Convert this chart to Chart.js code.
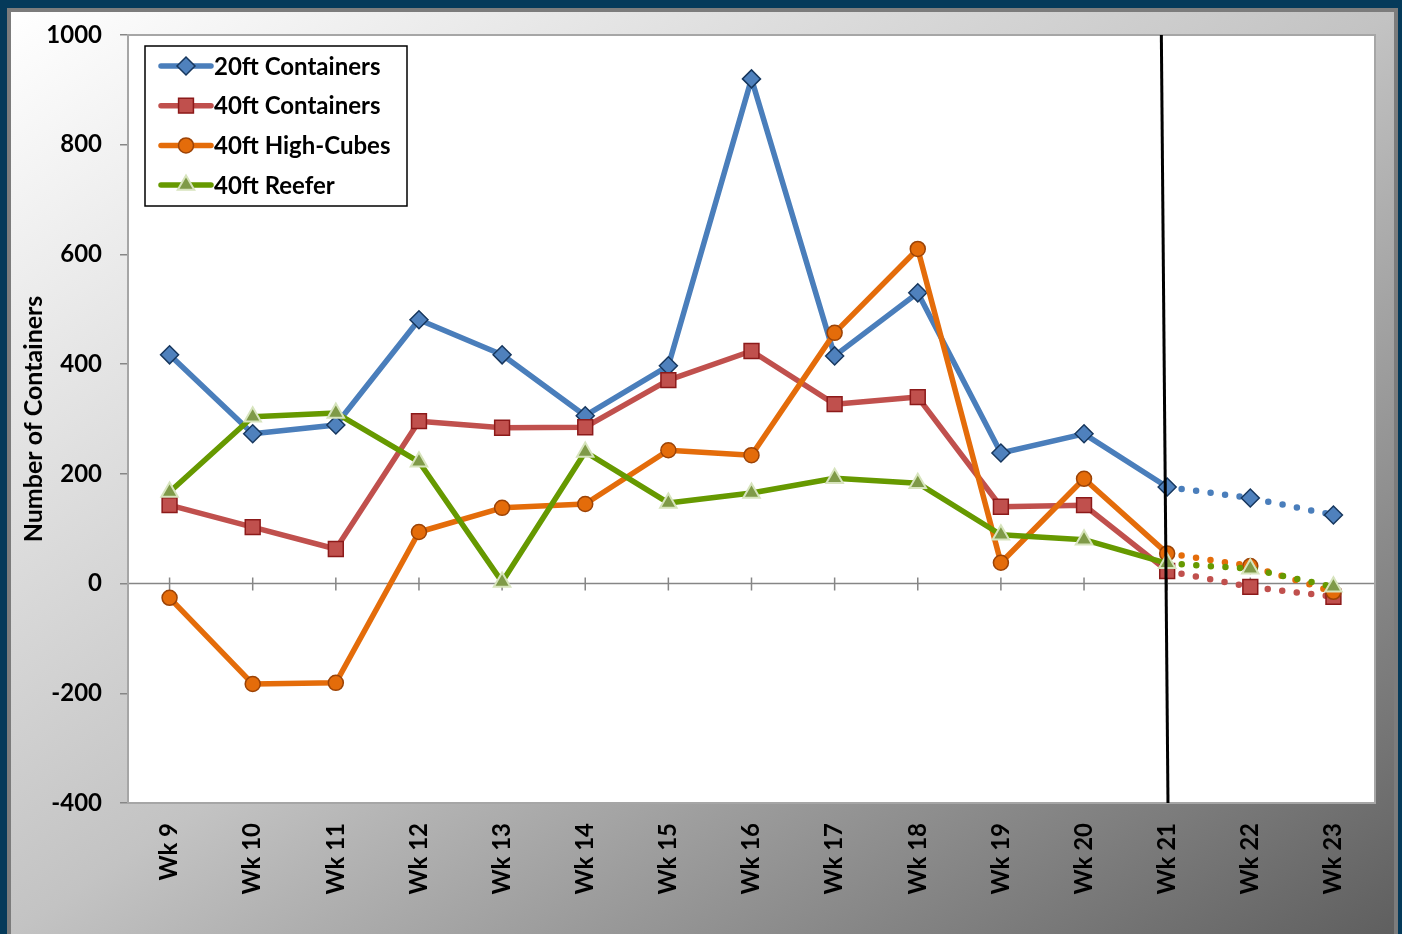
<!DOCTYPE html>
<html>
<head>
<meta charset="utf-8">
<script src="https://cdn.jsdelivr.net/npm/chart.js@4.4.1/dist/chart.umd.min.js"></script>
<style>
  html, body { margin: 0; padding: 0; width: 1402px; height: 934px; overflow: hidden; background: #053a5a; }
  #frame {
    position: absolute; left: 7px; top: 8px; width: 1391px; height: 926px;
    box-sizing: border-box; border: 4px solid #7c7c7c; border-bottom: none;
    background: linear-gradient(to bottom right, #ffffff 0%, #c3c3c3 50%, #5f5f5f 100%);
  }
  #wrap { position: absolute; left: 0; top: 0; width: 1402px; height: 934px; }
</style>
</head>
<body>
<div id="frame"></div>
<div id="wrap"><canvas id="chart" width="1402" height="934"></canvas></div>
<script>
// Weekly container counts, Wk 21 onwards is the forecast (dotted)
const weeks = ['Wk 9', 'Wk 10', 'Wk 11', 'Wk 12', 'Wk 13', 'Wk 14', 'Wk 15', 'Wk 16',
  'Wk 17', 'Wk 18', 'Wk 19', 'Wk 20', 'Wk 21', 'Wk 22', 'Wk 23'];
const containers20 = [417, 273, 289, 481, 417, 306, 397, 920, 415, 530, 238, 273, 176, 156, 125];
const containers40 = [143, 103, 63, 296, 284, 285, 371, 424, 327, 340, 140, 143, 23, -6, -24];
const highCubes40 = [-26, -183, -181, 94, 138, 145, 243, 234, 457, 610, 38, 191, 55, 32, -15];
const reefer40 = [167, 304, 311, 222, 3, 240, 147, 165, 192, 183, 89, 80, 37, 27, -6];
const yTicks = [-400, -200, 0, 200, 400, 600, 800, 1000];
const forecastFrom = 12;

const FONT = 'Lato, "Open Sans", sans-serif';
const AXIS_GRAY = '#868686';

function series(label, data, color, marker, order) {
  return {
    label,
    data,
    order,
    borderColor: color,
    borderWidth: 5.5,
    borderCapStyle: 'round',
    borderJoinStyle: 'round',
    tension: 0,
    pointStyle: marker.style,
    pointRadius: marker.radius,
    pointBackgroundColor: marker.fill,
    pointBorderColor: marker.border,
    pointBorderWidth: marker.borderWidth,
    segment: {
      borderDash: ctx => ctx.p0DataIndex >= forecastFrom ? [0, 14.6] : undefined,
      borderWidth: ctx => ctx.p0DataIndex >= forecastFrom ? 6.5 : undefined
    }
  };
}

// white plot area, zero line with category ticks, drawn under the series
const zeroLine = {
  id: 'zeroLine',
  beforeDraw(chart) {
    const { ctx, chartArea } = chart;
    ctx.save();
    ctx.fillStyle = '#fff';
    ctx.fillRect(chartArea.left, chartArea.top, chartArea.right - chartArea.left, chartArea.bottom - chartArea.top);
    ctx.restore();
  },
  beforeDatasetsDraw(chart) {
    const { ctx, chartArea, scales: { x, y } } = chart;
    const y0 = y.getPixelForValue(0);
    ctx.save();
    ctx.strokeStyle = AXIS_GRAY;
    ctx.lineWidth = 1.5;
    ctx.beginPath();
    ctx.moveTo(chartArea.left, y0);
    ctx.lineTo(chartArea.right, y0);
    weeks.forEach((w, i) => {
      const px = x.getPixelForValue(i);
      ctx.moveTo(px, y0 - 6);
      ctx.lineTo(px, y0 + 7);
    });
    ctx.stroke();
    ctx.restore();
  }
};

// plot border, forecast divider and the boxed legend on top
const overlay = {
  id: 'overlay',
  afterDatasetsDraw(chart) {
    const { ctx, chartArea, scales: { x } } = chart;
    ctx.save();
    ctx.strokeStyle = '#a6a6a6';
    ctx.lineWidth = 2;
    ctx.strokeRect(chartArea.left, chartArea.top, chartArea.right - chartArea.left, chartArea.bottom - chartArea.top);

    ctx.strokeStyle = '#000';
    ctx.lineWidth = 3;
    ctx.beginPath();
    ctx.moveTo(x.getPixelForValue(forecastFrom - 0.07), chartArea.top);
    ctx.lineTo(x.getPixelForValue(forecastFrom + 0.01), chartArea.bottom);
    ctx.stroke();

    const bx = chartArea.left + 17, by = chartArea.top + 11;
    ctx.fillStyle = '#fff';
    ctx.fillRect(bx, by, 262, 160);
    ctx.strokeStyle = '#000';
    ctx.lineWidth = 1.5;
    ctx.strokeRect(bx, by, 262, 160);

    ctx.font = 'bold 24px ' + FONT;
    ctx.textBaseline = 'middle';
    chart.data.datasets.forEach((ds, i) => {
      const ly = by + 20 + i * 39.7;
      ctx.strokeStyle = ds.borderColor;
      ctx.lineWidth = 5.5;
      ctx.lineCap = 'round';
      ctx.beginPath();
      ctx.moveTo(bx + 16, ly);
      ctx.lineTo(bx + 66, ly);
      ctx.stroke();
      ctx.fillStyle = ds.pointBackgroundColor;
      ctx.strokeStyle = ds.pointBorderColor;
      ctx.lineWidth = ds.pointBorderWidth;
      Chart.helpers.drawPoint(ctx, { pointStyle: ds.pointStyle, radius: ds.pointRadius, rotation: 0, borderWidth: ds.pointBorderWidth }, bx + 41, ly);
      ctx.fillStyle = '#000';
      ctx.fillText(ds.label, bx + 69, ly + 1);
    });
    ctx.restore();
  }
};

new Chart(document.getElementById('chart'), {
  type: 'line',
  data: {
    labels: weeks,
    datasets: [
      series('20ft Containers', containers20, '#4a7ebb', { style: 'rectRot', radius: 9, fill: '#4f81bd', border: '#17375e', borderWidth: 1.5 }, 3),
      series('40ft Containers', containers40, '#c0504d', { style: 'rect', radius: 10.5, fill: '#c0504d', border: '#8c1a1a', borderWidth: 1.5 }, 2),
      series('40ft High-Cubes', highCubes40, '#e46c0a', { style: 'circle', radius: 7.5, fill: '#e46c0a', border: '#9c4306', borderWidth: 1.5 }, 1),
      series('40ft Reefer', reefer40, '#669900', { style: 'triangle', radius: 9.5, fill: '#7f9a48', border: '#d7e4bd', borderWidth: 2 }, 0)
    ]
  },
  options: {
    responsive: false,
    animation: false,
    events: [],
    layout: { padding: { top: 35, right: 27, left: 0, bottom: 0 } },
    plugins: { legend: { display: false }, tooltip: { enabled: false } },
    scales: {
      x: {
        offset: true,
        afterFit: scale => { scale.height = 131; },
        grid: { display: false },
        border: { display: false },
        ticks: {
          color: '#000',
          font: { family: FONT, size: 24, weight: 'bold' },
          minRotation: 90,
          maxRotation: 90,
          padding: 12,
          autoSkip: false
        }
      },
      y: {
        min: -400,
        max: 1000,
        afterFit: scale => { scale.width = 128; },
        afterBuildTicks: scale => { scale.ticks = yTicks.map(v => ({ value: v })); },
        grid: { drawOnChartArea: false, drawTicks: true, tickLength: 8, color: AXIS_GRAY, lineWidth: 1.5 },
        border: { display: true, color: AXIS_GRAY, width: 1.5 },
        ticks: {
          color: '#000',
          font: { family: FONT, size: 24, weight: 'bold' },
          padding: 18,
          callback: v => String(v)
        },
        title: {
          display: true,
          text: 'Number of Containers',
          color: '#000',
          font: { family: FONT, size: 25, weight: 'bold' },
          padding: { top: 19, bottom: 0 }
        }
      }
    }
  },
  plugins: [zeroLine, overlay]
});
</script>
</body>
</html>
